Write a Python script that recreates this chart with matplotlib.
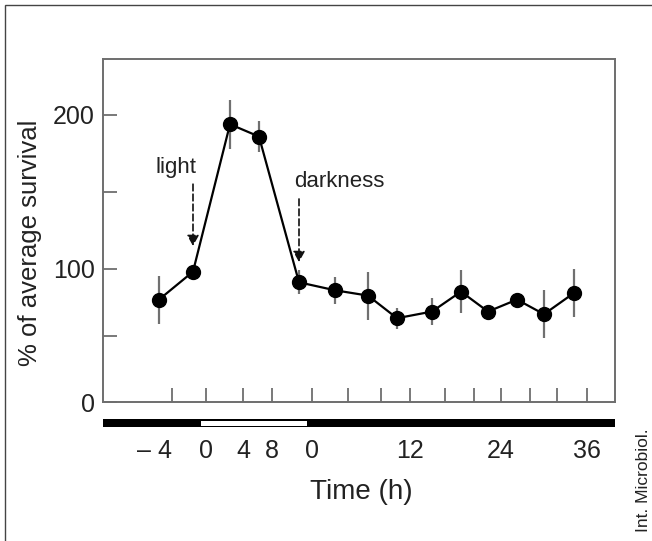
import numpy as np
import matplotlib
matplotlib.use('Agg')
import matplotlib.pyplot as plt
import matplotlib.transforms as mtransforms
from matplotlib.patches import Rectangle

# sampling times (h from light onset) and survival (% of average)
hours = np.array([-4, 0, 4, 8, 12, 16, 20, 24, 28, 32, 36, 40, 44, 48])
survival = np.array([77, 98, 194, 186, 90, 84, 80, 63, 68, 83, 68, 77, 66, 82])
sd = np.array([18, 3, 16, 10, 9, 10, 18, 8, 10, 16, 3, 3, 18, 18])

label_hours = [-4, 0, 4, 8, 12, 24, 36, 48]
label_text = ['\u2013 4', '0', '4', '8', '0', '12', '24', '36']
light_on, light_off = 0, 12

# hand drawn axes of the original: piecewise scales (value -> px from spine)
x_node_h = [-12, -4, 0, 4, 8, 12, 16, 20, 24, 28, 32, 36, 40, 44, 48, 56]
x_node_px = [-12, 56, 90, 127, 156, 196, 232, 265, 294, 329, 358, 385, 414, 441, 471, 531]
y_node_v = [-100, 0, 100, 200, 300]
y_node_px = [-133, 0, 133, 287, 441]


def fwd_x(h):
   return np.interp(h, x_node_h, x_node_px)

def inv_x(p):
   return np.interp(p, x_node_px, x_node_h)

def fwd_y(v):
   return np.interp(v, y_node_v, y_node_px)

def inv_y(p):
   return np.interp(p, y_node_px, y_node_v)


plt.rcParams['font.family'] = ['Liberation Sans', 'DejaVu Sans']
txt = '#222222'
grey = '#6e6e6e'

fig = plt.figure(figsize=(6.52, 5.41), dpi=100)
ax = fig.add_axes([103/652., 1-402/541., 512/652., 343/541.])

# outer frame
fig.patches.append(Rectangle((5/652., -0.05), 1.1, 1-5/541.+0.05, transform=fig.transFigure,
                             fill=False, ec='#444444', lw=1.0))

ax.set_xscale('function', functions=(fwd_x, inv_x))
ax.set_yscale('function', functions=(fwd_y, inv_y))

ax.errorbar(hours, survival, yerr=sd, fmt='none', ecolor='#707070', elinewidth=1.6, capsize=0, zorder=2)
ax.plot(hours, survival, '-o', color='black', lw=1.6, ms=10, zorder=3)

for s in ax.spines.values():
   s.set_color(grey)
   s.set_linewidth(1.4)

# x ticks / labels / light bar sit slightly right of the points in the original
tick_off = mtransforms.ScaledTranslation(13/100., 0, fig.dpi_scale_trans)
tick_tr = mtransforms.blended_transform_factory(ax.transData + tick_off, ax.transAxes)
bar_off = mtransforms.ScaledTranslation(7.5/100., 0, fig.dpi_scale_trans)
bar_tr = mtransforms.blended_transform_factory(ax.transData + bar_off, ax.transAxes)

ax.vlines(hours, 0, 14/343., transform=tick_tr, colors=grey, lw=1.3)
for h, s in zip(label_hours, label_text):
   ha = 'right' if s.startswith('\u2013') else 'center'
   ax.text(h, -49/343., s, transform=tick_tr, ha=ha, va='center', fontsize=18, color=txt)

ax.add_patch(Rectangle((0, -25/343.), 1, 8/343., transform=ax.transAxes, color='black',
                       clip_on=False, lw=0))
ax.add_patch(Rectangle((light_on, -23.5/343.), light_off-light_on, 5/343., transform=bar_tr,
                       fc='white', ec='none', clip_on=False))

ax.set_xticks([])
ax.set_yticks([0, 100, 200])
ax.set_yticks([50, 150], minor=True)
ax.tick_params(axis='y', which='both', direction='in', length=10, width=1.3, color=grey,
               labelsize=18, labelcolor=txt, pad=6)

# light / darkness arrows
arr = dict(arrowstyle='-|>,head_length=0.45,head_width=0.25', ls=(0, (4, 2)), lw=1.2,
           color='#111111', shrinkA=0, mutation_scale=14)
ax.annotate('', xy=(hours[1], survival[1]), xytext=(0, 63), textcoords='offset points',
            arrowprops=dict(arr, shrinkB=18.5))
ax.annotate('light', xy=(hours[1], survival[1]), xytext=(-12.2, 71), textcoords='offset points',
            ha='center', va='baseline', fontsize=16, color=txt)
ax.annotate('', xy=(hours[4], survival[4]), xytext=(0, 60), textcoords='offset points',
            arrowprops=dict(arr, shrinkB=14.6))
ax.annotate('darkness', xy=(hours[4], survival[4]), xytext=(29, 68.4), textcoords='offset points',
            ha='center', va='baseline', fontsize=16, color=txt)

ax.set_xlim(inv_x(0), inv_x(512))
ax.set_ylim(0, inv_y(343))

fig.text(30/652., 1-243/541., '% of average survival', rotation=90, ha='center', va='center',
         fontsize=18.5, color=txt)
fig.text(361/652., 1-492/541., 'Time (h)', ha='center', va='center', fontsize=20, color=txt)
fig.text(643/652., 1-480/541., 'Int. Microbiol.', rotation=90, ha='center', va='center',
         fontsize=12.5, color=txt)

plt.savefig('out.png', dpi=100)
plt.close(fig)
